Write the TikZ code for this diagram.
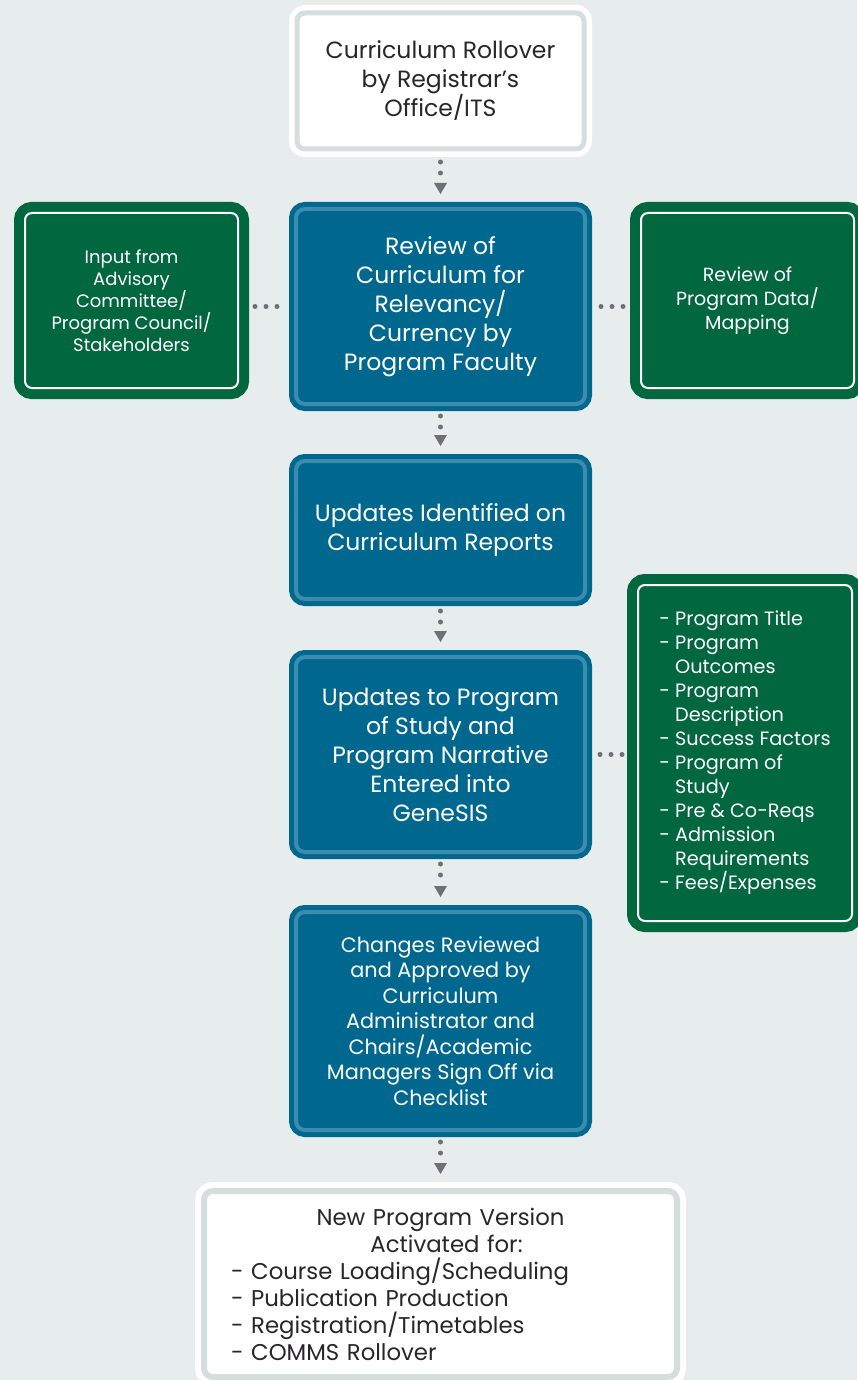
\documentclass[tikz,border=0pt]{standalone}
\usepackage{fontspec}
\setmainfont{Poppins}
\usetikzlibrary{arrows.meta,calc}

\definecolor{bggray}{RGB}{231,236,236}
\definecolor{framegray}{RGB}{213,222,222}
\definecolor{stepblue}{RGB}{0,104,143}
\definecolor{stepline}{RGB}{60,140,176}
\definecolor{sidegreen}{RGB}{0,103,62}
\definecolor{dotgray}{RGB}{110,112,115}
\definecolor{textdark}{RGB}{40,38,40}

\tikzset{
  whitebox/.style={rectangle, rounded corners=8pt, fill=white, draw=framegray, line width=5pt,
    preaction={draw=white, line width=16pt}, outer sep=8pt, inner sep=0pt,
    text=textdark, align=center, font=\fontsize{23.5}{29}\selectfont},
  bluebox/.style={rectangle, rounded corners=9pt, fill=stepblue, draw=stepline, line width=4pt,
    preaction={draw=stepblue, line width=14pt}, outer sep=7pt, inner sep=0pt,
    minimum width=289pt, text=white, align=center, font=\fontsize{23.5}{29}\selectfont},
  greenbox/.style={rectangle, rounded corners=7pt, fill=sidegreen, draw=white, line width=2pt,
    preaction={draw=sidegreen, line width=22pt}, outer sep=11pt, inner sep=0pt,
    minimum width=213pt, text=white, font=\fontsize{18}{22}\selectfont},
  flowdots/.style={draw=dotgray, line width=5pt, line cap=round, dash pattern=on 0pt off 11pt},
  flowarrow/.style={flowdots, shorten <=5pt, shorten >=8pt,
    -{Triangle[width=13pt,length=11pt,line width=0pt]}},
}

\begin{document}
\begin{tikzpicture}[x=1pt,y=-1pt]
  \useasboundingbox (0,0) rectangle (857,1380);
  \fill[bggray] (0,0) rectangle (857,1380); % background

  % main column
  \node[whitebox, minimum width=287pt, minimum height=136pt] (rollover) at (440.5,81)
    {Curriculum Rollover\\by Registrar’s\\Office/ITS};
  \node[bluebox, minimum height=195pt] (review) at (440.5,306.5)
    {Review of\\Curriculum for\\Relevancy/\\Currency by\\Program Faculty};
  \node[bluebox, minimum height=138pt] (identified) at (440.5,530)
    {Updates Identified on\\Curriculum Reports};
  \node[bluebox, minimum height=195pt] (entered) at (440.5,754.5)
    {Updates to Program\\of Study and\\Program Narrative\\Entered into\\GeneSIS};
  \node[bluebox, minimum height=218pt, font=\fontsize{20.8}{25.5}\selectfont] (approved) at (440.5,1021)
    {Changes Reviewed\\and Approved by\\Curriculum\\Administrator and\\Chairs/Academic\\Managers Sign Off via\\Checklist};
  \node[whitebox, text width=473pt, minimum height=186pt, rounded corners=9pt, line width=6pt,
    preaction={draw=white, line width=18pt}, outer sep=9pt, align=left,
    font=\fontsize{22.8}{27}\selectfont] (activated) at (440.5,1284)
    {\hfill New Program Version\hfill\null\\
     \hfill\hspace{12pt}Activated for:\hfill\null\\
     \hspace*{27pt}- Course Loading/Scheduling\\
     \hspace*{27pt}- Publication Production\\
     \hspace*{27pt}- Registration/Timetables\\
     \hspace*{27pt}- COMMS Rollover};

  % side boxes
  \node[greenbox, minimum height=175pt, align=center] (advisory) at (131.5,300.5)
    {Input from\\Advisory\\Committee/\\Program Council/\\Stakeholders};
  \node[greenbox, minimum height=175pt, align=center, font=\fontsize{19}{24}\selectfont] (mapping) at (747.5,300.5)
    {Review of\\Program Data/\\Mapping};
  \node[greenbox, minimum width=214pt, minimum height=336pt, align=left, font=\fontsize{19.3}{24}\selectfont] (items) at (745,753)
    {- Program Title\\- Program\\\hphantom{-}\ Outcomes\\- Program\\\hphantom{-}\ Description\\- Success Factors\\- Program of\\\hphantom{-}\ Study\\- Pre \& Co-Reqs\\- Admission\\\hphantom{-}\ Requirements\\- Fees/Expenses};

  % connectors
  \draw[flowarrow] (rollover) -- (review);
  \draw[flowarrow] (review) -- (identified);
  \draw[flowarrow] (identified) -- (entered);
  \draw[flowarrow] (entered) -- (approved);
  \draw[flowarrow] (approved) -- (activated);
  \draw[flowdots, shorten <=6pt, shorten >=5pt] (advisory.east |- review.west) -- (review.west);
  \draw[flowdots, shorten <=9pt, shorten >=5pt] (review.east) -- (review.east -| mapping.west);
  \draw[flowdots, shorten <=8pt, shorten >=4pt] (entered.east) -- (entered.east -| items.west);
\end{tikzpicture}
\end{document}
